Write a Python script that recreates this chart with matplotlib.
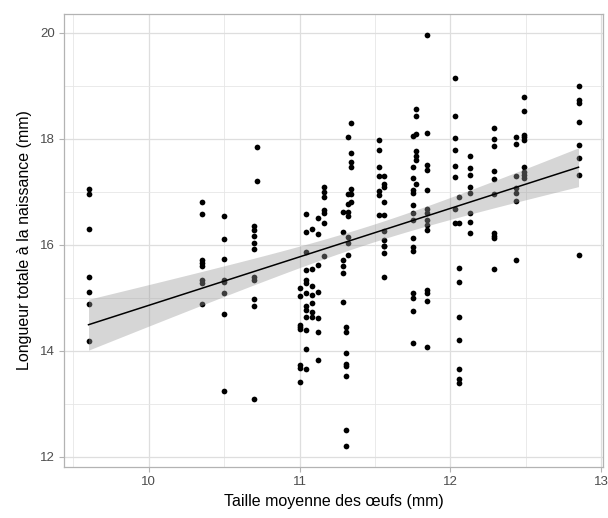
## Longueur totale a la naissance vs taille moyenne des oeufs
import numpy as np
import matplotlib.pyplot as plt

plt.rcParams['font.family'] = ['Liberation Sans', 'DejaVu Sans']

# Donnees (une ligne par colonne de points)
taille = (
    [9.6] * 7 +
    [10.35] * 8 +
    [10.5] * 8 +
    [10.72] * 2 + [10.7] * 10 +
    [11.0] * 8 +
    [11.04] * 13 +
    [11.08] * 7 +
    [11.12] * 7 +
    [11.165] * 7 +
    [11.285] * 6 +
    [11.31] * 8 +
    [11.32] * 8 +
    [11.34] * 7 +
    [11.525] * 7 +
    [11.56] * 11 +
    [11.755] * 15 +
    [11.77] * 7 +
    [11.845] * 14 +
    [12.03] * 8 +
    [12.06] * 9 +
    [12.13] * 8 +
    [12.29] * 10 +
    [12.435] * 7 +
    [12.49] * 9 +
    [12.85] * 8
)
longueur = [
    17.05, 16.96, 16.31, 15.40, 15.12, 14.89, 14.18,
    16.82, 16.59, 15.72, 15.66, 15.60, 15.34, 15.28, 14.89,
    16.55, 16.11, 15.74, 15.34, 15.30, 15.10, 14.69, 13.25,
    17.85, 17.20, 16.35, 16.28, 16.17, 16.04, 15.92, 15.40, 15.34, 14.98, 14.85, 13.09,
    15.18, 15.04, 14.49, 14.45, 14.41, 13.74, 13.67, 13.42,
    16.58, 16.25, 15.86, 15.53, 15.34, 15.28, 15.09, 14.84, 14.77, 14.65, 14.40, 14.03, 13.66,
    16.31, 15.54, 15.23, 15.05, 14.90, 14.74, 14.64,
    16.51, 16.21, 15.62, 15.12, 14.62, 14.35, 13.83,
    17.10, 17.00, 16.91, 16.66, 16.60, 16.42, 15.79,
    16.63, 16.24, 15.72, 15.60, 15.47, 14.93,
    14.45, 14.36, 13.96, 13.75, 13.72, 13.53, 12.50, 12.20,
    18.03, 16.96, 16.77, 16.63, 16.55, 16.16, 16.03, 15.82,
    18.30, 17.73, 17.57, 17.48, 17.05, 16.96, 16.82,
    17.98, 17.79, 17.48, 17.31, 17.01, 16.94, 16.57,
    17.31, 17.16, 17.10, 16.82, 16.57, 16.26, 16.10, 15.99, 15.98, 15.84, 15.40,
    18.06, 17.48, 17.26, 17.04, 16.98, 16.75, 16.61, 16.47, 16.13, 15.97, 15.89, 15.09, 15.00, 14.75, 14.15,
    18.56, 18.43, 18.09, 17.77, 17.67, 17.60, 17.16,
    19.97, 18.12, 17.51, 17.42, 17.04, 16.67, 16.60, 16.47, 16.38, 16.28, 15.15, 15.09, 14.95, 14.08,
    19.15, 18.43, 18.01, 17.79, 17.49, 17.29, 16.68, 16.42,
    16.91, 16.42, 15.56, 15.30, 14.65, 14.21, 13.66, 13.48, 13.39,
    17.67, 17.45, 17.32, 17.10, 16.98, 16.60, 16.44, 16.23,
    18.21, 18.00, 17.87, 17.40, 17.24, 16.96, 16.22, 16.17, 16.13, 15.54,
    18.03, 17.90, 17.31, 17.07, 16.98, 16.83, 15.72,
    18.80, 18.52, 18.08, 18.03, 17.99, 17.48, 17.38, 17.32, 17.26,
    19.00, 18.74, 18.68, 18.32, 17.89, 17.65, 17.32, 15.81,
]
x_ticks = [10, 11, 12, 13]
y_ticks = [12, 14, 16, 18, 20]

x = np.array(taille)
y = np.array(longueur)

# Regression lineaire + intervalle de confiance 95% (comme geom_smooth(method="lm"))
n = len(x)
b, a = np.polyfit(x, y, 1)
resid = y - (a + b * x)
s = np.sqrt(np.sum(resid ** 2) / (n - 2))
sxx = np.sum((x - x.mean()) ** 2)
xs = np.linspace(x.min(), x.max(), 80)
ys = a + b * xs
se = s * np.sqrt(1 / n + (xs - x.mean()) ** 2 / sxx)
t = 1.971

fig = plt.figure(figsize=(6.08, 5.18), dpi=100)
ax = fig.add_axes([0.1053, 0.0985, 0.8865, 0.8745])

ax.scatter(x, y, s=17, c="black", linewidths=0, zorder=3)
ax.fill_between(xs, ys - t * se, ys + t * se, color="#999999", alpha=0.4, lw=0, zorder=4)
ax.plot(xs, ys, c="black", lw=1.1, zorder=5)

xr = x.max() - x.min(); yr = y.max() - y.min()
ax.set_xlim(x.min() - 0.05 * xr, x.max() + 0.05 * xr)
ax.set_ylim(y.min() - 0.05 * yr, y.max() + 0.05 * yr)

ax.set_xticks(x_ticks)
ax.set_yticks(y_ticks)
ax.set_xticks([9.5, 10.5, 11.5, 12.5], minor=True)
ax.set_yticks([13, 15, 17, 19], minor=True)
ax.grid(which="major", color="#DEDEDE", lw=0.9, zorder=0)
ax.grid(which="minor", color="#E6E6E6", lw=0.6, zorder=0)
ax.set_axisbelow(True)
ax.tick_params(which="major", length=3.5, width=0.8, color="#B3B3B3",
               labelsize=9.5, labelcolor="#4D4D4D", pad=3)
ax.tick_params(which="minor", length=0)
for sp in ax.spines.values():
    sp.set_color("#B3B3B3")
    sp.set_linewidth(0.9)

ax.set_xlabel("Taille moyenne des œufs (mm)", fontsize=11.5, color="black", labelpad=4)
ax.set_ylabel("Longueur totale à la naissance (mm)", fontsize=11.5, color="black", labelpad=6)

fig.savefig("out.png", dpi=100)
